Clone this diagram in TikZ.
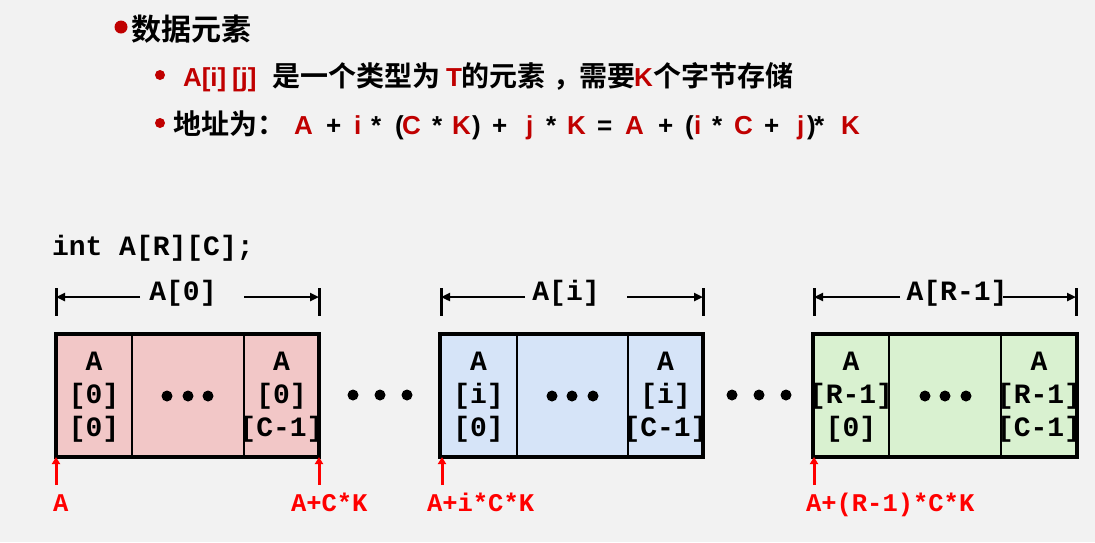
\documentclass[tikz,border=0pt]{standalone}
\usepackage{fontspec}
\setmainfont{Liberation Sans}
\newfontfamily\cjk{Noto Sans CJK SC Bold}
\newfontfamily\cour{Liberation Mono}
\usetikzlibrary{arrows.meta}
\definecolor{bg}{RGB}{242,242,242}
\definecolor{dred}{RGB}{192,0,0}
\definecolor{pinkc}{RGB}{242,199,199}
\definecolor{bluec}{RGB}{214,228,248}
\definecolor{greenc}{RGB}{217,241,208}
\begin{document}
\begin{tikzpicture}[x=1pt,y=-1pt,
  txt/.style={inner sep=0pt,outer sep=0pt,anchor=base west},
  cn/.style={txt,font=\cjk\fontsize{28}{28}\selectfont},
  cnbig/.style={txt,font=\cjk\fontsize{30}{30}\selectfont},
  lat/.style={txt,font=\bfseries\fontsize{26}{26}\selectfont},
  mono/.style={inner sep=0pt,outer sep=0pt,anchor=base,font=\cour\bfseries\fontsize{28}{28}\selectfont},
  redlab/.style={txt,font=\cour\bfseries\fontsize{25.5}{26}\selectfont,text=red},
  bul/.style={fill=dred},
  outerbox/.style={draw=black,line width=3.2pt},
  divider/.style={draw=black,line width=2pt},
  dimline/.style={draw=black,line width=2.5pt,-{Triangle[length=9pt,width=8pt]}},
  dimtick/.style={draw=black,line width=3pt},
  redarrow/.style={draw=red,line width=3pt,-{Triangle[length=7pt,width=8pt]}},
  dot/.style={fill=black}
]
\fill[bg] (0,0) rectangle (1095,542);
\useasboundingbox (0,0) rectangle (1095,542);

% ---- header text ----
\fill[bul] (121,27) circle (6.5);
\node[cnbig] (h1) at (131,40) {数据元素};

\fill[bul] (160,75) circle (5);
\node[lat,text=dred] (h2a) at (183,86) {A[i]};
\node[lat,text=dred] (h2b) at (232,86) {[j]};
\node[cn] (h2c) at (272,86) {是一个类型为};
\node[lat,text=dred] (h2d) at (446,86) {T};
\node[cn] (h2e) at (461,86) {的元素};
\node[cn] (h2f) at (553,86) {，};
\node[cn] (h2g) at (579,86) {需要};
\node[lat,text=dred] (h2h) at (634,86) {K};
\node[cn] (h2i) at (653,86) {个字节存储};

\fill[bul] (160,123) circle (5);
\node[cn] (h3a) at (173,134) {地址为：};
\foreach \x/\t/\c [count=\n] in {294/A/dred,326/+/black,354/i/dred,371/*/black,395/(/black,402/C/dred,432/*/black,452/K/dred,472/)/black,492/+/black,
  526/j/dred,546/*/black,567/K/dred,597/=/black,625/A/dred,658/+/black,685/(/black,694/i/dred,712/*/black,734/C/dred,764/+/black,
  797/j/dred,807/)/black,814/*/black,841/K/dred}
  \node[lat,text=\c] (f\n) at (\x,134) {\t};

% ---- declaration ----
\node[txt,font=\cour\bfseries\fontsize{28}{28}\selectfont] (decl) at (52,255) {int A[R][C];};

% ---- dimension lines ----
\foreach \nm/\l/\r/\cx/\lab/\ls/\rs in {d0/56/319/183/{A[0]}/140/244, d1/441/703/566/{A[i]}/525/627, d2/814/1076/957/{A[R-1]}/900/1003}{
  \coordinate (\nm lt) at (\l,288); \coordinate (\nm lb) at (\l,316);
  \coordinate (\nm rt) at (\r,288); \coordinate (\nm rb) at (\r,316);
  \coordinate (\nm le) at (\l,297); \coordinate (\nm re) at (\r,297);
  \coordinate (\nm ls) at (\ls,297); \coordinate (\nm rs) at (\rs,297);
  \draw[dimtick] (\nm lt) -- (\nm lb);
  \draw[dimtick] (\nm rt) -- (\nm rb);
  \draw[dimline] (\nm ls) -- (\nm le);
  \draw[dimline] (\nm rs) -- (\nm re);
  \node[mono] (\nm lab) at (\cx,300) {\lab};
}

% ---- blocks ----
\foreach \nm/\a/\b/\c/\d/\col in {b0/56/132/244/319/pinkc, b1/440/517/628/703/bluec, b2/813/889/1001/1077/greenc}{
  \fill[\col] (\a,334) rectangle (\d,457);
  \draw[divider] (\b,334) -- (\b,457);
  \draw[divider] (\c,334) -- (\c,457);
  \draw[outerbox] (\a,334) rectangle (\d,457);
}

% cell texts
\foreach \x/\r/\cc [count=\n] in {94/0/0, 281.5/0/C-1, 478.5/i/0, 665.5/i/C-1, 851/R-1/0, 1039/R-1/C-1}{
  \node[mono] (c\n a) at (\x,370) {A};
  \node[mono] (c\n b) at (\x,403) {[\r]};
  \node[mono] (c\n c) at (\x,436) {[\cc]};
}

% dots inside middle cells
\foreach \x in {167,188,208, 552,572,593, 925,945,966}
  \fill[dot] (\x,396) circle (5.5);
% dots between blocks
\foreach \x in {353,380,407, 732,759,786}
  \fill[dot] (\x,395) circle (5.5);

% ---- red address arrows ----
\foreach \nm/\x in {r0/56, r1/319, r2/442, r3/814}{
  \coordinate (\nm s) at (\x,485);
  \coordinate (\nm e) at (\x,457);
  \draw[redarrow] (\nm s) -- (\nm e);
}
\node[redlab] (ra) at (53,511) {A};
\node[redlab] (rb) at (291,511) {A+C*K};
\node[redlab] (rc) at (427,511) {A+i*C*K};
\node[redlab] (rd) at (806,511) {A+(R-1)*C*K};
\end{tikzpicture}
\end{document}
